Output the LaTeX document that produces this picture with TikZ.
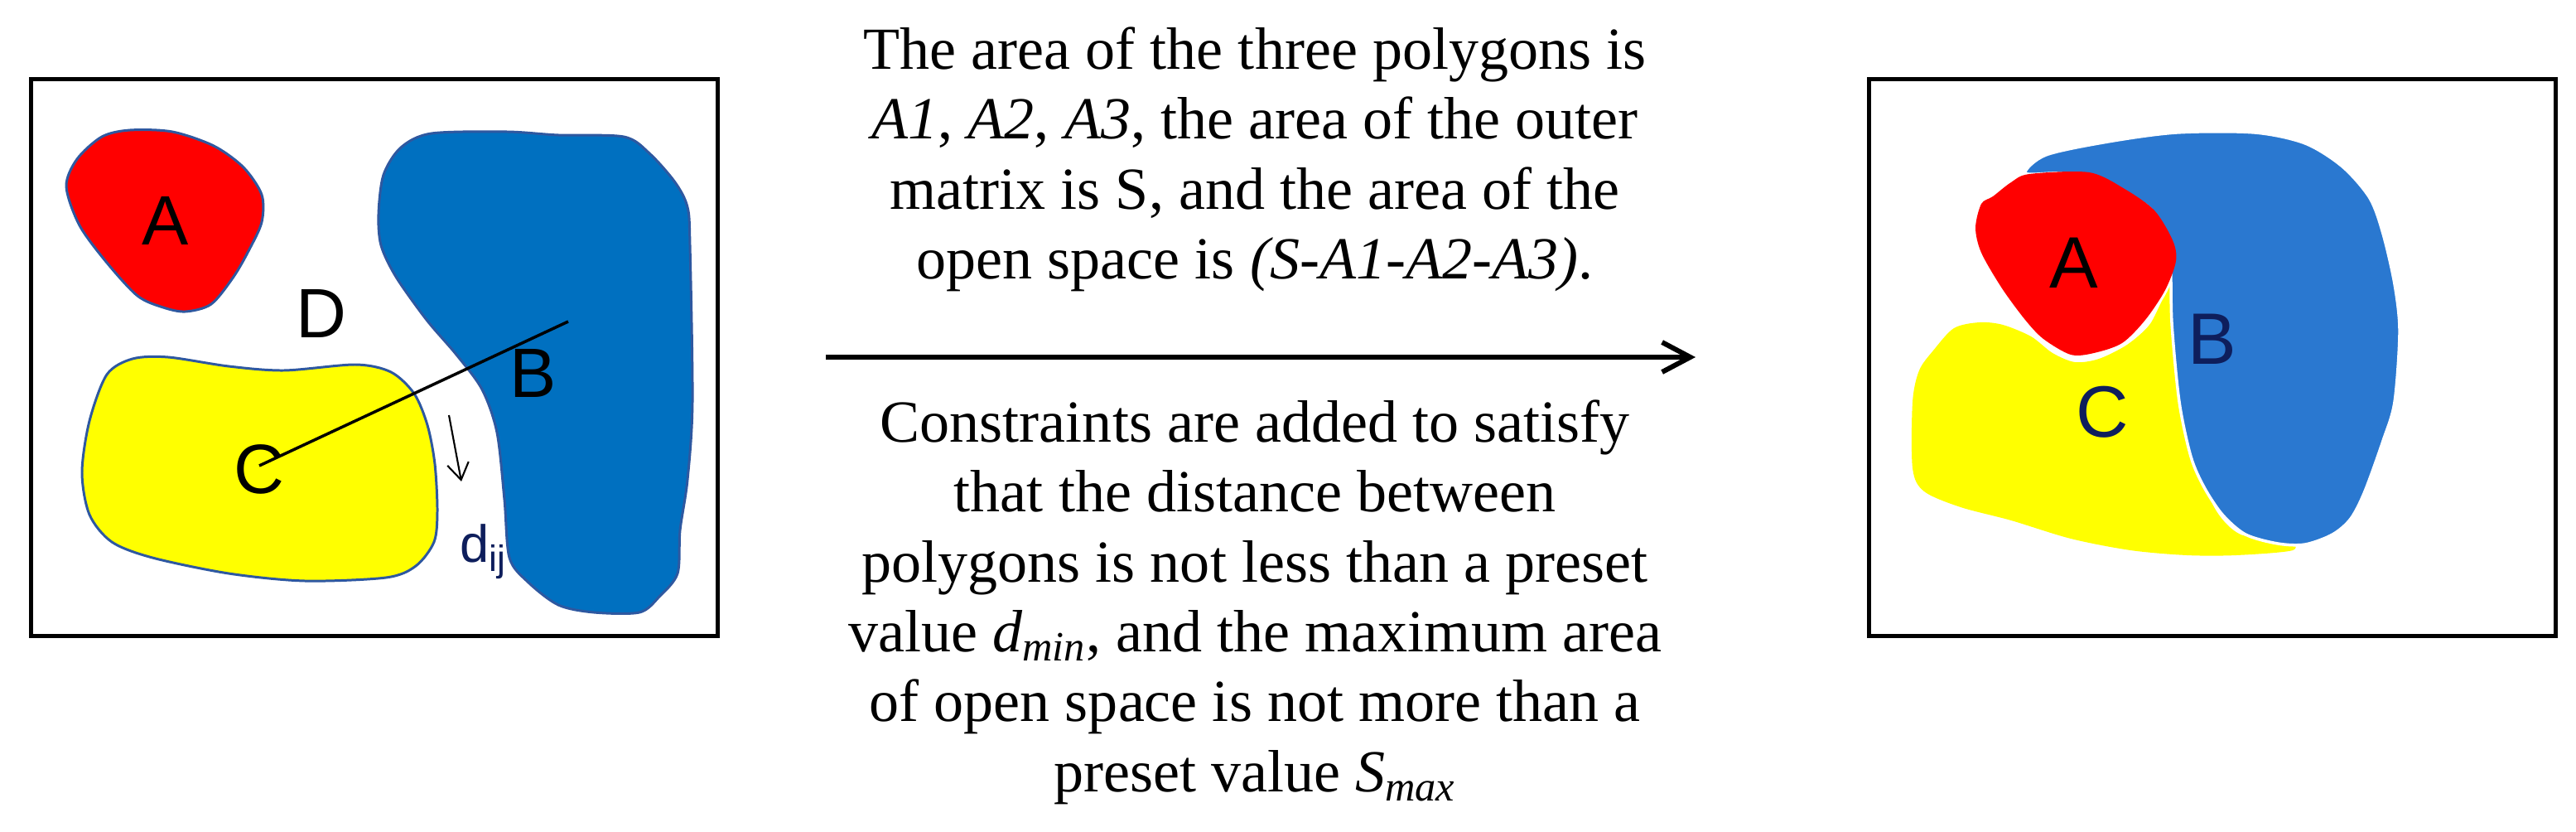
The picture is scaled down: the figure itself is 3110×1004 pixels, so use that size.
\documentclass[tikz,border=0pt]{standalone}
\usepackage{fontspec}
\setmainfont{Liberation Serif}
\newfontfamily\lblfont{Liberation Sans}
\usetikzlibrary{arrows.meta}

\definecolor{blobred}{RGB}{255,0,0}
\definecolor{blobyellow}{RGB}{255,255,0}
\definecolor{blobblue}{RGB}{0,112,192}
\definecolor{blobblueR}{RGB}{42,120,208}
\definecolor{rimblue}{RGB}{46,88,160}
\definecolor{navy}{RGB}{14,30,92}

\begin{document}
\begin{tikzpicture}[x=0.1mm, y=-0.1mm]

	% ---------- Canvas ----------
	\useasboundingbox (0,0) rectangle (3110,1004);

	% ---------- Helper styles ----------
	\tikzset{
		frame/.style={draw, line width=1.4pt, inner sep=0pt, minimum width=82.9mm, minimum height=67.2mm},
		rim/.style={draw=rimblue, line width=0.85pt},
		lbl/.style={anchor=base, inner sep=0pt, font=\lblfont\fontsize{24}{28}\selectfont},
		lblR/.style={lbl, font=\lblfont\fontsize{25}{29}\selectfont},
		note/.style={anchor=north, align=center, inner sep=0pt, font=\fontsize{20.5}{24}\selectfont}
	}

	% ---------- LEFT PANEL (before) ----------
	\node[frame] (lbox) at (452,431.5) {};

	% polygon A (red)
	\filldraw[rim, fill=blobred] plot[smooth cycle] coordinates {
		(157,157) (208,159) (258,176) (294,202) (316,235) (316,268) (301,301)
		(282,334) (255,367) (224,376) (197,371) (166,357) (129,317) (96,272)
		(80,225) (93,192) (123,165)};
	% polygon B (blue)
	\filldraw[rim, fill=blobblue] plot[smooth cycle] coordinates {
		(484,178) (521,161) (612,159) (674,163) (753,165) (784,185) (815,220)
		(830,250) (833,296) (836,485) (830,579) (821,640) (818,692) (796,720)
		(772,739) (717,739) (674,730) (637,702) (615,673) (609,603) (600,522)
		(582,470) (551,428) (515,386) (478,334) (460,296) (457,258) (463,211)};
	% polygon C (yellow)
	\filldraw[rim, fill=blobyellow] plot[smooth cycle] coordinates {
		(160,433) (203,431) (276,442) (343,447) (429,440) (472,449) (500,475)
		(516,513) (525,560) (528,617) (524,654) (502,683) (466,697) (368,701)
		(276,692) (184,673) (135,654) (108,621) (99,570) (108,508) (129,452)};

	\node[lbl] (lA) at (200,296) {A};
	\node[lbl] (lB) at (644,479) {B};
	\node[lbl] (lC) at (313,595) {C};
	\node[lbl] (lD) at (388,407) {D};
	\node[anchor=base west, inner sep=0pt, text=navy, font=\lblfont\fontsize{18}{22}\selectfont]
		(dij) at (555,678) {d\textsubscript{ij}};

	% centre line C -> B and gap arrow
	\coordinate (cC) at (313,562);
	\coordinate (cB) at (686,388);
	\draw[line width=1pt] (cC) -- (cB);
	\coordinate (gapS) at (542,501);
	\coordinate (gapE) at (557,581);
	\draw[line width=0.6pt, -{Straight Barb[length=2mm, width=2.6mm]}] (gapS) -- (gapE);

	% ---------- MIDDLE (text + arrow) ----------
	\node[note] (topnote) at (1515,32) {The area of the three polygons is\\
		\textit{A1}, \textit{A2}, \textit{A3}, the area of the outer\\
		matrix is S, and the area of the\\
		open space is \textit{(S-A1-A2-A3)}.};
	\coordinate (arrS) at (997,431);
	\coordinate (arrE) at (2047,431);
	\draw[line width=1.7pt, -{Straight Barb[length=3.4mm, width=3.6mm]}] (arrS) -- (arrE);
	\node[note] (botnote) at (1515,482) {Constraints are added to satisfy\\
		that the distance between\\
		polygons is not less than a preset\\
		value \textit{d}\textsubscript{\textit{min}}, and the maximum area\\
		of open space is not more than a\\
		preset value \textit{S}\textsubscript{\textit{max}}};

	% ---------- RIGHT PANEL (after) ----------
	\node[frame] (rbox) at (2670.5,431.5) {};

	% polygon C (yellow), partly hidden under A and B
	\fill[blobyellow] plot[smooth cycle] coordinates {
		(2359,396) (2390,389) (2418,392) (2452,406) (2478,426) (2505,437)
		(2534,433) (2568,416) (2595,392) (2612,360) (2630,340) (2640,450)
		(2652,540) (2672,610) (2705,645) (2760,650) (2768,664) (2700,670)
		(2640,670) (2572,664) (2500,650) (2428,628) (2367,612) (2323,593)
		(2309,565) (2309,485) (2317,447) (2334,423)};
	% polygon B (blue)
	\filldraw[draw=white, line width=1pt, fill=blobblueR] plot[smooth cycle] coordinates {
		(2445,209) (2470,187) (2545,171) (2628,160) (2722,160) (2783,173)
		(2828,201) (2861,239) (2877,282) (2891,343) (2897,400) (2891,485)
		(2877,532) (2855,593) (2838,626) (2816,645) (2783,657) (2750,656)
		(2711,645) (2683,621) (2661,588) (2645,551) (2631,485) (2622,390)
		(2620,310) (2611,277) (2595,251) (2561,230) (2523,213) (2484,209)};
	% polygon A (red), overlapping the edge of B
	\fill[blobred] plot[smooth cycle] coordinates {
		(2450,210) (2522,208) (2565,228) (2601,254) (2623,290) (2627,315)
		(2614,350) (2590,386) (2562,414) (2528,426) (2500,428) (2467,409)
		(2445,386) (2417,348) (2392,305) (2385,275) (2392,246) (2406,237)
		(2428,220)};

	\node[lblR] (rA) at (2504,348) {A};
	\node[lblR, text=navy] (rB) at (2671,440) {B};
	\node[lblR, text=navy] (rC) at (2538,527) {C};

\end{tikzpicture}
\end{document}
